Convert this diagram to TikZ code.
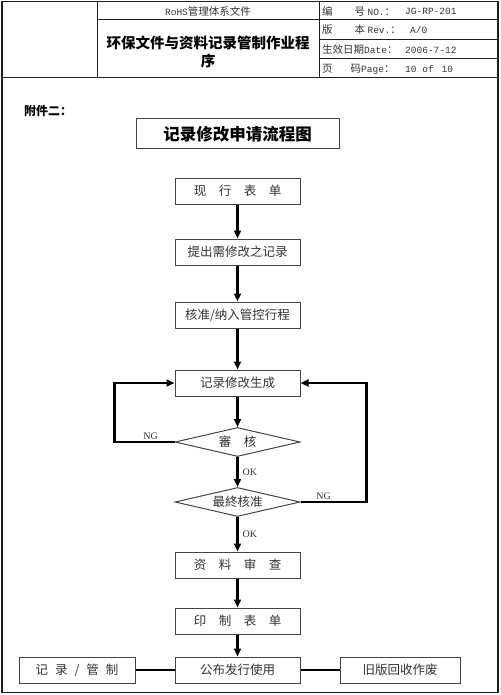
\documentclass[tikz,border=0pt]{standalone}
\usepackage{fontspec}
\setmainfont{Noto Sans CJK SC}
\newfontfamily\latin{Liberation Serif}
\newfontfamily\mono{Liberation Mono}
\usepackage{tikz}
\usetikzlibrary{arrows.meta,positioning,shapes.geometric}
\definecolor{formLine}{HTML}{1E1E1E}
\definecolor{formText}{HTML}{333333}
\definecolor{boxLine}{HTML}{444444}
\tikzset{
  box/.style={rectangle, draw=boxLine, line width=1pt, fill=white, text=formText, align=center, minimum width=125pt, minimum height=26pt, inner sep=0pt, font=\fontsize{12.5}{14}\selectfont},
  sidebox/.style={box, minimum width=116pt},
  titlebox/.style={rectangle, draw=boxLine, line width=1pt, align=center, minimum width=203pt, minimum height=30pt, font=\bfseries\fontsize{16.5}{19}\selectfont},
  decision/.style={diamond, draw=boxLine, line width=1pt, fill=white, text=formText, aspect=4, minimum width=125pt, minimum height=29pt, inner sep=0pt, font=\fontsize{12.5}{14}\selectfont},
  arrow/.style={-{Triangle[length=8pt,width=7pt]}, line width=2.2pt, draw=black},
  link/.style={line width=2.2pt, draw=black},
  flag/.style={font=\latin\fontsize{10}{12}\selectfont, text=formText, inner sep=1pt},
  head/.style={font=\fontsize{10.5}{12}\selectfont, text=formText, inner sep=0pt, anchor=west}
}
\newcommand{\hl}[1]{{\mono\fontsize{9.5}{12}\selectfont #1}}
\begin{document}
\begin{tikzpicture}[x=1pt, y=-1pt]
  \useasboundingbox (0,0) rectangle (500,695);
  % form frame and header table
  \draw[formLine, line width=1.6pt] (1.8,1.5) rectangle (498,692.5);
  \draw[formLine, line width=1pt] (1.5,78) -- (498,78);
  \draw[formLine, line width=1pt] (97,1.5) -- (97,78);
  \draw[formLine, line width=1pt] (319,1.5) -- (319,78);
  \draw[formLine, line width=1pt] (97,20) -- (498,20);
  \draw[formLine, line width=1pt] (319,40) -- (498,40);
  \draw[formLine, line width=1pt] (319,59) -- (498,59);

  \node[head, anchor=center] (series) at (208,11) {\hl{RoHS}管理体系文件};
  \node[align=center, font=\bfseries\fontsize{14.5}{18}\selectfont] (doctitle) at (208,52) {环保文件与资料记录管制作业程\\序};
  \node[head] (nolbl) at (322,11) {编\hspace{22pt}号 \hl{NO.}：};
  \node[head] (noval) at (405,11) {\hl{JG-RP-201}};
  \node[head] (revlbl) at (322,30) {版\hspace{22pt}本 \hl{Rev.}：};
  \node[head] (revval) at (410,30) {\hl{A/0}};
  \node[head] (datelbl) at (322,50) {生效日期\hl{Date}：};
  \node[head] (dateval) at (405,50) {\hl{2006-7-12}};
  \node[head] (pagelbl) at (322,69) {页\hspace{18pt}码\hl{Page}：};
  \node[head] (pageval) at (405,69) {\hl{10 of\hspace{8pt}10}};

  \node[anchor=west, inner sep=0pt, font=\bfseries\fontsize{12}{14}\selectfont] (annex) at (24,111) {附件二：};
  \node[titlebox] (chart) at (237.5,134) {记录修改申请流程图};

  % flow
  \node[box] (current) at (237.5,191) {现　行　表　单};
  \node[box, below=34pt of current] (propose) {提出需修改之记录};
  \node[box, below=36pt of propose] (approve) {核准/纳入管控行程};
  \node[box, below=41pt of approve] (revise) {记录修改生成};
  \node[decision, below=30.5pt of revise] (review) {審　核};
  \node[decision, below=30pt of review] (final) {最終核准};
  \node[box, below=34.5pt of final] (check) {资　料　审　查};
  \node[box, below=29pt of check] (print) {印　制　表　单};
  \node[box, below=22pt of print] (publish) {公布发行使用};
  \node[sidebox, left=39pt of publish] (control) {记\hspace{7pt}录\hspace{7pt}/\hspace{7pt}管\hspace{7pt}制};
  \node[box, minimum width=120pt, right=39pt of publish] (scrap) {旧版回收作废};

  \draw[arrow] (current) -- (propose);
  \draw[arrow] (propose) -- (approve);
  \draw[arrow] (approve) -- (revise);
  \draw[arrow] (revise) -- (review);
  \draw[arrow] (review) -- node[flag, right, xshift=3pt] {OK} (final);
  \draw[arrow] (final) -- node[flag, right, xshift=3pt] {OK} (check);
  \draw[arrow] (review.west) -- node[flag, above, pos=0.4] {NG} ++(-60,0) |- (revise.west);
  \draw[arrow] (final.east) -- node[flag, above, pos=0.35] {NG} ++(66,0) |- (revise.east);
  \draw[arrow] (check) -- (print);
  \draw[arrow] (print) -- (publish);
  \draw[link] (control) -- (publish);
  \draw[link] (publish) -- (scrap);
\end{tikzpicture}
\end{document}
